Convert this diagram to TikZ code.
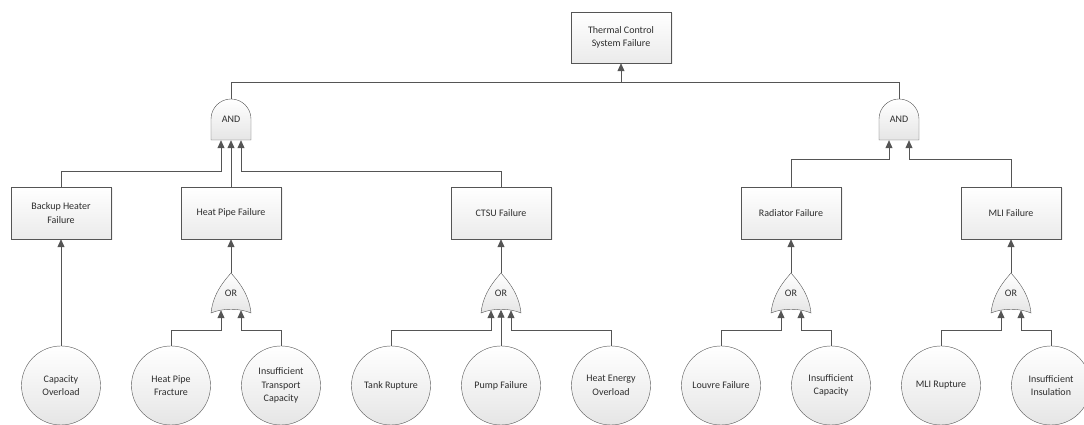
\documentclass[tikz,border=0pt]{standalone}
\usepackage{fontspec}
\setmainfont{Carlito}
\usetikzlibrary{arrows.meta, shadows}
\definecolor{linegray}{RGB}{85,85,85}
\definecolor{textgray}{RGB}{45,45,45}
\tikzset{
	event/.style={
		draw=linegray,
		rectangle,
		top color=white,
		bottom color=black!8,
		minimum width=100pt,
		minimum height=52pt,
		align=center,
		drop shadow={opacity=0.12, shadow xshift=1.5pt, shadow yshift=-1.5pt}
	},
	basic/.style={
		draw=linegray,
		circle,
		top color=white,
		bottom color=black!10,
		inner sep=0pt,
		minimum size=79pt,
		align=center
	},
	gate/.style={draw=linegray, top color=white, bottom color=black!10},
	gatelabel/.style={inner sep=0pt, minimum width=40pt, minimum height=40pt},
	edge/.style={-{Triangle[length=8pt, width=7pt]}, draw=linegray, line width=0.8pt},
	wire/.style={draw=linegray, line width=0.8pt}
}
% gate outlines: name, x of centre, y of base
\newcommand{\andgate}[3]{%
	\draw[gate] (#2-20,#3) -- (#2-20,#3+21) arc (180:0:20pt) -- (#2+20,#3) -- cycle;
	\node[gatelabel, minimum height=41pt] (#1) at (#2,#3+20.5) {AND};
}
\newcommand{\orgate}[3]{%
	\draw[gate] (#2-20,#3) .. controls (#2-18,#3+20) and (#2-6,#3+33) .. (#2,#3+40)
		.. controls (#2+6,#3+33) and (#2+18,#3+20) .. (#2+20,#3)
		.. controls (#2+8,#3+5) and (#2-8,#3+5) .. cycle;
	\node[gatelabel] (#1) at (#2,#3+20) {OR};
}

\begin{document}
\begin{tikzpicture}[x=1pt, y=1pt, font=\fontsize{10pt}{13.5pt}\selectfont, text=textgray]
	\useasboundingbox (0,0) rectangle (1084,425);
	
	% top event and AND gates
	\node (tcs) at (621,387.5) [event, minimum height=51pt] {Thermal Control\\System Failure};
	\andgate{andL}{231}{285}
	\andgate{andR}{899}{285}
	
	% intermediate events
	\node (backup) at (61,212) [event] {Backup Heater\\Failure};
	\node (heatpipe) at (231,212) [event] {Heat Pipe Failure};
	\node (ctsu) at (501,212) [event] {CTSU Failure};
	\node (radiator) at (791,212) [event] {Radiator Failure};
	\node (mli) at (1011,212) [event] {MLI Failure};
	
	% OR gates
	\orgate{orHP}{231}{112}
	\orgate{orCTSU}{501}{112}
	\orgate{orRad}{791}{112}
	\orgate{orMLI}{1011}{112}
	
	% basic events
	\node (overload) at (61,39.5) [basic] {Capacity\\Overload};
	\node (fracture) at (171,39.5) [basic] {Heat Pipe\\Fracture};
	\node (transport) at (281,39.5) [basic] {Insufficient\\Transport\\Capacity};
	\node (tank) at (391,39.5) [basic] {Tank Rupture};
	\node (pump) at (501,39.5) [basic] {Pump Failure};
	\node (energy) at (611,39.5) [basic] {Heat Energy\\Overload};
	\node (louvre) at (721,39.5) [basic] {Louvre Failure};
	\node (capacity) at (831,39.5) [basic] {Insufficient\\Capacity};
	\node (rupture) at (941,39.5) [basic] {MLI Rupture};
	\node (insulation) at (1051,39.5) [basic] {Insufficient\\Insulation};
	
	% top level
	\draw[wire] (andL.north) -- ++(0,16) -| (andR.north);
	\draw[edge] ([yshift=16pt]andL.north -| tcs.south) -- (tcs.south);
	
	% into the AND gates
	\draw[edge] (backup.north) -- ++(0,15) -| ([xshift=-10pt]andL.south);
	\draw[edge] (heatpipe.north) -- (andL.south);
	\draw[edge] (ctsu.north) -- ++(0,15) -| ([xshift=10pt]andL.south);
	\draw[edge] (radiator.north) -- ++(0,27) -| ([xshift=-10pt]andR.south);
	\draw[edge] (mli.north) -- ++(0,27) -| ([xshift=10pt]andR.south);
	
	% OR gates up to their events
	\draw[edge] (overload.north) -- (overload.north |- backup.south);
	\draw[edge] (orHP.north) -- (heatpipe.south);
	\draw[edge] (orCTSU.north) -- (ctsu.south);
	\draw[edge] (orRad.north) -- (radiator.south);
	\draw[edge] (orMLI.north) -- (mli.south);
	
	% basic events into the OR gates
	\draw[edge] (fracture.north) -- ++(0,15) -| ([xshift=-10pt, yshift=3pt]orHP.south);
	\draw[edge] (transport.north) -- ++(0,15) -| ([xshift=10pt, yshift=3pt]orHP.south);
	\draw[edge] (tank.north) -- ++(0,15) -| ([xshift=-10pt, yshift=3pt]orCTSU.south);
	\draw[edge] (pump.north) -- ([yshift=3.5pt]orCTSU.south);
	\draw[edge] (energy.north) -- ++(0,15) -| ([xshift=10pt, yshift=3pt]orCTSU.south);
	\draw[edge] (louvre.north) -- ++(0,15) -| ([xshift=-10pt, yshift=3pt]orRad.south);
	\draw[edge] (capacity.north) -- ++(0,15) -| ([xshift=10pt, yshift=3pt]orRad.south);
	\draw[edge] (rupture.north) -- ++(0,15) -| ([xshift=-10pt, yshift=3pt]orMLI.south);
	\draw[edge] (insulation.north) -- ++(0,15) -| ([xshift=10pt, yshift=3pt]orMLI.south);
\end{tikzpicture}
\end{document}
